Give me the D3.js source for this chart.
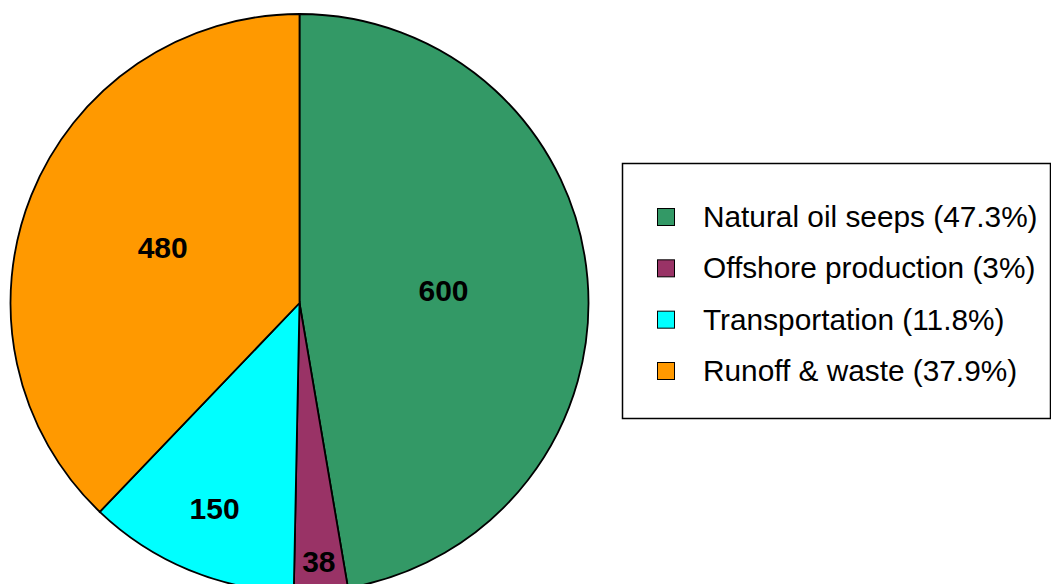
<!DOCTYPE html>
<html><head><meta charset="UTF-8">
<title>Oil entering the sea</title>
<script src="https://cdn.jsdelivr.net/npm/d3@7"></script>
<style>
  body { margin: 0; background: #fff; }
  svg { display: block; }
  .slice { stroke: #000; stroke-width: 1.8; }
  .lbl { font-family: Arial, "Liberation Sans", sans-serif; font-weight: bold; font-size: 30px; fill: #000; }
  .leg text { font-family: Arial, "Liberation Sans", sans-serif; font-size: 29.8px; fill: #000; }
</style>
</head>
<body>
<svg width="1051" height="584"></svg>
<script>
  // data
  var categories = ["Natural oil seeps", "Offshore production", "Transportation", "Runoff & waste"];
  var values = [600, 38, 150, 480];
  var colors = ["#339966", "#993366", "#00ffff", "#ff9900"];

  //begin: layout conf.
  var width = 1051, height = 584,
      cx = 299.5, cy = 303, radius = 289;
  // small slices get their number pushed out towards the rim (like excel does)
  var labelRadius = [0.5, 0.9, 0.77, 0.51];
  //end: layout conf.

  var svg = d3.select("svg");
  var total = d3.sum(values);
  var data = categories.map(function(c, i){ return {name: c, value: values[i], color: colors[i], i: i}; });

  var pie = d3.pie().sort(null).value(function(d){ return d.value; });
  var arc = d3.arc().innerRadius(0).outerRadius(radius);
  var arcs = pie(data);

  var g = svg.append("g").attr("transform", "translate(" + [cx, cy] + ")");

  g.selectAll(".slice")
    .data(arcs)
    .enter().append("path")
      .attr("class", "slice")
      .attr("fill", function(d){ return d.data.color; })
      .attr("d", arc);

  g.selectAll(".lbl")
    .data(arcs)
    .enter().append("text")
      .attr("class", "lbl")
      .attr("text-anchor", "middle")
      .attr("dy", "0.33em")
      .attr("transform", function(d){
        var r = radius * labelRadius[d.data.i];
        var a = (d.startAngle + d.endAngle) / 2;
        return "translate(" + [Math.sin(a) * r, -Math.cos(a) * r] + ")";
      })
      .text(function(d){ return d.data.value; });

  //begin: legend
  var leg = svg.append("g").attr("class", "leg");
  leg.append("rect")
    .attr("x", 622.5).attr("y", 163.5)
    .attr("width", 428).attr("height", 255)
    .attr("fill", "#fff").attr("stroke", "#000").attr("stroke-width", 1.5);

  var rowY = d3.scalePoint().domain(categories).range([217, 371]);

  var rows = leg.selectAll(".row")
    .data(data)
    .enter().append("g")
      .attr("class", "row")
      .attr("transform", function(d){ return "translate(0," + rowY(d.name) + ")"; });

  rows.append("rect")
    .attr("x", 657.5).attr("y", -8.5)
    .attr("width", 17).attr("height", 17)
    .attr("fill", function(d){ return d.color; })
    .attr("stroke", "#000").attr("stroke-width", 1);

  rows.append("text")
    .attr("x", 703).attr("y", 10)
    .text(function(d){
      var p = d3.format(".1f")(d.value / total * 100).replace(/\.0$/, "");
      return d.name + " (" + p + "%)";
    });
  //end: legend
</script>
</body></html>
